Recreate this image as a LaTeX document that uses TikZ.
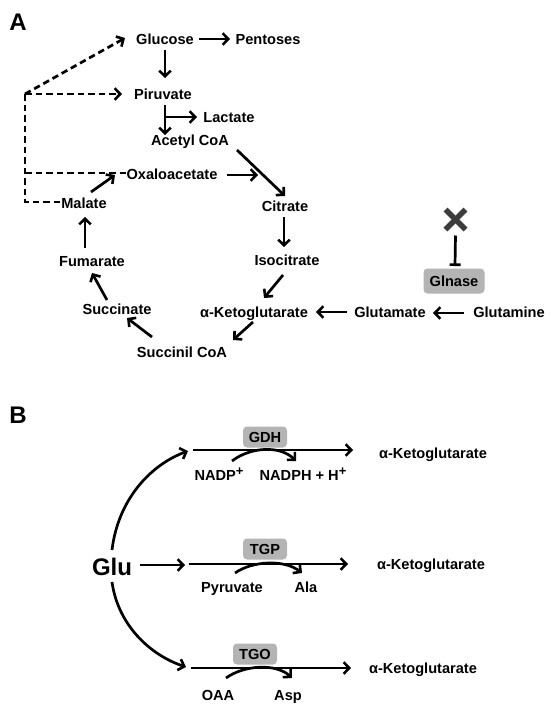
\documentclass[tikz,border=0pt]{standalone}
\usepackage{fontspec}
\setmainfont{Liberation Sans}
\usetikzlibrary{arrows.meta}
\definecolor{boxgray}{RGB}{180,180,180}
\definecolor{xgray}{RGB}{60,60,60}
\begin{document}
\begin{tikzpicture}[x=1pt,y=-1pt,
  lbl/.style={font=\fontsize{14.6}{16}\selectfont\bfseries, inner sep=0pt, text height=10.5pt, text depth=0pt},
  big/.style={font=\fontsize{24}{28}\selectfont\bfseries, inner sep=0pt, text height=17pt, text depth=0pt},
  arr/.style={line width=2.7pt, -{Straight Barb[length=5.5pt,width=11.5pt,line width=2.6pt]}},
  dsh/.style={line width=2.7pt, dash pattern=on 6.5pt off 4pt},
  inh/.style={line width=2.7pt, -{Bar[width=11pt,line width=2.6pt]}},
  enz/.style={lbl, fill=boxgray, rounded corners=4pt, minimum width=44pt, minimum height=21pt},
  xline/.style={line width=5.5pt, xgray}]
\useasboundingbox (0,0) rectangle (550,710);

% ---------- Panel A ----------
\node[big] (labA) at (18,22) {A};
\node[lbl] (glucose) at (165,39) {Glucose};
\node[lbl] (pentoses) at (268,39) {Pentoses};
\node[lbl] (piruvate) at (163,94) {Piruvate};
\node[lbl] (lactate) at (229,117) {Lactate};
\node[lbl] (acetyl) at (190,140) {Acetyl CoA};
\node[lbl] (oxalo) at (172,174) {Oxaloacetate};
\node[lbl] (citrate) at (285,206) {Citrate};
\node[lbl] (isocitrate) at (287,260) {Isocitrate};
\node[lbl] (akg) at (254,312) {α-Ketoglutarate};
\node[lbl] (glutamate) at (390,312) {Glutamate};
\node[lbl] (glutamine) at (509,312) {Glutamine};
\node[enz, minimum width=61pt, minimum height=25pt] (glnase) at (454,281) {Glnase};
\coordinate (xmark) at (455.5,219.5);
\node[lbl] (succinil) at (182,352) {Succinil CoA};
\node[lbl] (succinate) at (117,309) {Succinate};
\node[lbl] (fumarate) at (92,261) {Fumarate};
\node[lbl] (malate) at (84,203) {Malate};

\draw[arr] ([shift={(34,0)}]glucose.center) -- ([shift={(-38,0)}]pentoses.center);
\draw[arr] ([shift={(0,11)}]glucose.center) -- ([shift={(2,-16)}]piruvate.center);
\draw[arr] ([shift={(2,11)}]piruvate.center) -- ([shift={(-25,-5)}]acetyl.center);
\draw[arr] ([shift={(3,23)}]piruvate.center) -- ([shift={(-32,0)}]lactate.center);
\draw[arr] ([shift={(47,10)}]acetyl.center) -- ([shift={(0,-10)}]citrate.center);
\draw[arr] ([shift={(55,1)}]oxalo.center) -- ([shift={(-27,-31)}]citrate.center);
\draw[arr] ([shift={(-1,11)}]citrate.center) -- ([shift={(-3,-13)}]isocitrate.center);
\draw[arr] ([shift={(-4,15)}]isocitrate.center) -- ([shift={(10,-14)}]akg.center);
\draw[arr] ([shift={(-43,0)}]glutamate.center) -- ([shift={(62,0)}]akg.center);
\draw[arr] ([shift={(-45,1)}]glutamine.center) -- ([shift={(43,1)}]glutamate.center);
\draw[inh] ([shift={(0,16)}]xmark) -- ([shift={(1,-15)}]glnase.center);
\draw[xline] ([shift={(-10,-10)}]xmark) -- ([shift={(10,10)}]xmark);
\draw[xline] ([shift={(-10,10)}]xmark) -- ([shift={(10,-10)}]xmark);
\draw[arr] ([shift={(-1,10)}]akg.center) -- ([shift={(51,-12)}]succinil.center);
\draw[arr] ([shift={(-30,-15)}]succinil.center) -- ([shift={(10,9)}]succinate.center);
\draw[arr] ([shift={(-10,-9)}]succinate.center) -- ([shift={(0,12)}]fumarate.center);
\draw[arr] ([shift={(-7,-13)}]fumarate.center) -- ([shift={(1,14)}]malate.center);
\draw[arr] ([shift={(7,-11)}]malate.center) -- ([shift={(-57,1)}]oxalo.center);

% dashed feedback lines
\coordinate (dc) at (25,94);
\coordinate (oxl) at ([shift={(-46,-1)}]oxalo.center);
\draw[dsh, -{Straight Barb[length=5.5pt,width=11.5pt,line width=2.6pt]}] (dc) -- ([shift={(-40,-1)}]glucose.center);
\draw[dsh, -{Straight Barb[length=5.5pt,width=11.5pt,line width=2.6pt]}] (dc) -- ([shift={(-41,0)}]piruvate.center);
\draw[dsh] (dc) |- ([shift={(-24,-1)}]malate.center);
\draw[dsh] (dc |- oxl) -- (oxl);

% ---------- Panel B ----------
\node[big] (labB) at (18,415) {B};
\node[big] (glu) at (112,567) {Glu};

\node[enz] (gdh) at (265,437) {GDH};
\node[enz] (tgp) at (265,549) {TGP};
\node[enz] (tgo) at (255,654) {TGO};

\node[lbl] (akg1) at (433,453) {α-Ketoglutarate};
\node[lbl] (akg2) at (431,564) {α-Ketoglutarate};
\node[lbl] (akg3) at (423,668) {α-Ketoglutarate};

\node[lbl] (nadp) at (219,475) {NADP\raisebox{5pt}{\fontsize{13}{13}\selectfont +}};
\node[lbl] (nadph) at (303,475) {NADPH + H\raisebox{5pt}{\fontsize{13}{13}\selectfont +}};
\node[lbl] (pyr) at (232,587) {Pyruvate};
\node[lbl] (ala) at (306,587) {Ala};
\node[lbl] (oaa) at (218,695) {OAA};
\node[lbl] (asp) at (288,695) {Asp};

\coordinate (r1s) at (193,450);
\coordinate (r2s) at (189,564);
\coordinate (r3s) at (191,668);

% Glu branches
\draw[arr] ([shift={(0,-17)}]glu.center) .. controls (118,500) and (150,465) .. ([shift={(-5,1)}]r1s);
\draw[arr] ([shift={(28,-2)}]glu.center) -- ([shift={(-4,1)}]r2s);
\draw[arr] ([shift={(0,15)}]glu.center) .. controls (118,625) and (150,655) .. ([shift={(-5,-1)}]r3s);

% main reaction lines
\draw[arr] (r1s) -- ([shift={(-80,-3)}]akg1.center);
\draw[arr] (r2s) -- ([shift={(-83,0)}]akg2.center);
\draw[arr] (r3s) -- ([shift={(-72,0)}]akg3.center);

% cofactor curves
\draw[arr] ([shift={(13,-14)}]nadp.center) .. controls (250,447) and (280,445) .. ([shift={(-7,-14)}]nadph.center);
\draw[arr] ([shift={(3,-14)}]pyr.center) .. controls (252,561) and (284,559) .. ([shift={(-4,-14)}]ala.center);
\draw[arr] ([shift={(8,-17)}]oaa.center) .. controls (244,665) and (276,663) .. ([shift={(4,-17)}]asp.center);
\end{tikzpicture}
\end{document}
